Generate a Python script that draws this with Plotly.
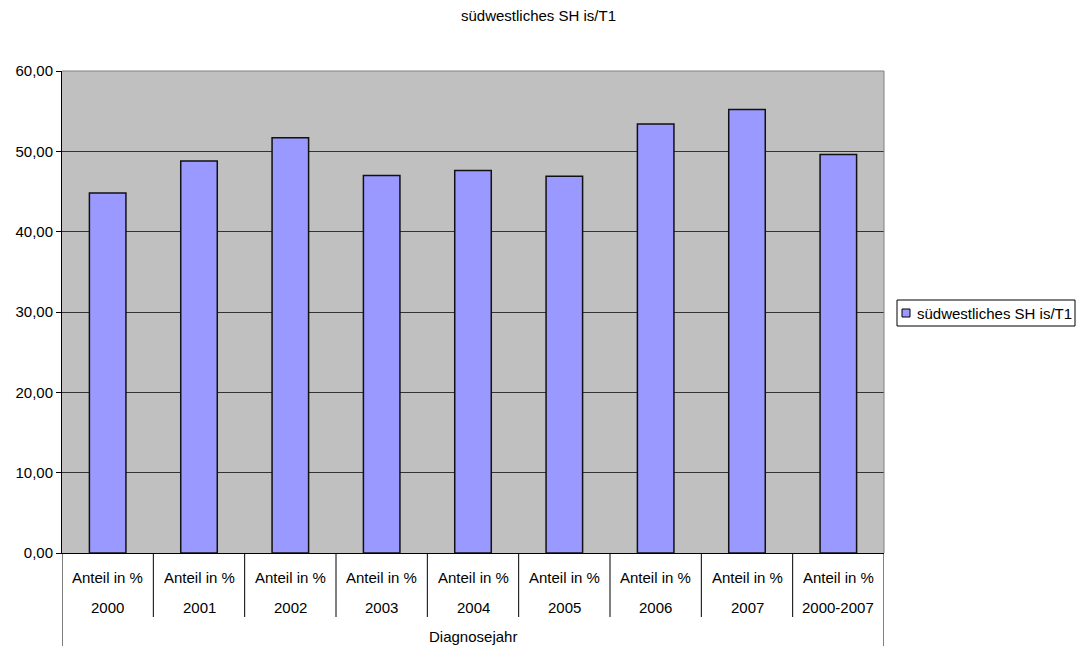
import plotly.graph_objects as go

# Chart data
series_name = "südwestliches SH is/T1"
years = ["2000", "2001", "2002", "2003", "2004", "2005", "2006", "2007", "2000-2007"]
measure_label = "Anteil in %"
axis_group_label = "Diagnosejahr"
values = [44.8, 48.8, 51.7, 47.0, 47.6, 46.9, 53.4, 55.2, 49.6]
y_ticks = [0, 10, 20, 30, 40, 50, 60]

W, H = 1077, 646
M_L, M_R, M_T, M_B = 62, 193, 71, 93
plot_w = W - M_L - M_R
plot_h = H - M_T - M_B

FONT = "Liberation Sans, Arial, sans-serif"
FS = 15


def px_to_py(ypx):
    """Convert a page pixel row into paper y."""
    return (H - M_B - ypx) / plot_h


def px_to_px_paper(xpx):
    return (xpx - M_L) / plot_w


x_idx = list(range(len(years)))

fig = go.Figure()
fig.add_trace(go.Bar(
    x=x_idx,
    y=values,
    name=series_name,
    width=0.4,
    marker=dict(color="#9999FF", line=dict(color="#111111", width=1.5)),
    showlegend=False,
))

shapes = []
annotations = []

# two-level category labels beneath the axis
for i, yr in enumerate(years):
    annotations.append(dict(x=i, y=px_to_py(577), xref="x", yref="paper",
                            text=measure_label, showarrow=False,
                            font=dict(size=FS, color="black", family=FONT),
                            xanchor="center", yanchor="middle"))
    annotations.append(dict(x=i, y=px_to_py(607), xref="x", yref="paper",
                            text=yr, showarrow=False,
                            font=dict(size=FS, color="black", family=FONT),
                            xanchor="center", yanchor="middle"))

annotations.append(dict(x=(len(years) - 1) / 2, y=px_to_py(636), xref="x", yref="paper",
                        text=axis_group_label, showarrow=False,
                        font=dict(size=FS, color="black", family=FONT),
                        xanchor="center", yanchor="middle"))

# separators between categories
for i in range(1, len(years)):
    shapes.append(dict(type="line", xref="x", yref="paper",
                       x0=i - 0.5, x1=i - 0.5, y0=0, y1=px_to_py(617),
                       line=dict(color="black", width=1)))
for xb in (-0.5, len(years) - 0.5):
    shapes.append(dict(type="line", xref="x", yref="paper",
                       x0=xb, x1=xb, y0=0, y1=px_to_py(H),
                       line=dict(color="black", width=1)))

# plot-area frame (top and right in gray)
shapes.append(dict(type="line", xref="paper", yref="paper", x0=0, x1=1, y0=1, y1=1,
                   line=dict(color="#808080", width=1)))
shapes.append(dict(type="line", xref="paper", yref="paper", x0=1, x1=1, y0=0, y1=1,
                   line=dict(color="#808080", width=1)))

# legend box
shapes.append(dict(type="rect", xref="paper", yref="paper",
                   x0=px_to_px_paper(897), x1=px_to_px_paper(1075),
                   y0=px_to_py(326), y1=px_to_py(300),
                   line=dict(color="black", width=1), fillcolor="white"))
shapes.append(dict(type="rect", xref="paper", yref="paper",
                   x0=px_to_px_paper(902), x1=px_to_px_paper(910),
                   y0=px_to_py(317), y1=px_to_py(309),
                   line=dict(color="black", width=1), fillcolor="#9999FF"))
annotations.append(dict(x=px_to_px_paper(915), y=px_to_py(313), xref="paper", yref="paper",
                        text=series_name, showarrow=False,
                        font=dict(size=FS, color="black", family=FONT),
                        xanchor="left", yanchor="middle"))

fig.update_layout(
    width=W, height=H,
    margin=dict(l=M_L, r=M_R, t=M_T, b=M_B, pad=0),
    paper_bgcolor="white",
    plot_bgcolor="#C0C0C0",
    separators=",.",
    title=dict(text=series_name, x=0.5, xref="container", xanchor="center",
               y=1 - 16 / H, yanchor="middle",
               font=dict(size=FS, color="black", family=FONT)),
    xaxis=dict(range=[-0.5, len(years) - 0.5], showticklabels=False, ticks="",
               showgrid=False, zeroline=False, showline=True, linecolor="black",
               linewidth=1, fixedrange=True),
    yaxis=dict(range=[0, 60], tickvals=y_ticks, tickformat=".2f",
               ticks="outside", ticklen=5, tickcolor="black",
               showline=True, linecolor="black", linewidth=1,
               showgrid=True, gridcolor="#333333", gridwidth=1,
               zeroline=False,
               tickfont=dict(size=FS, color="black", family=FONT)),
    shapes=shapes,
    annotations=annotations,
    bargap=0.6,
)

fig.write_html("out.html")
